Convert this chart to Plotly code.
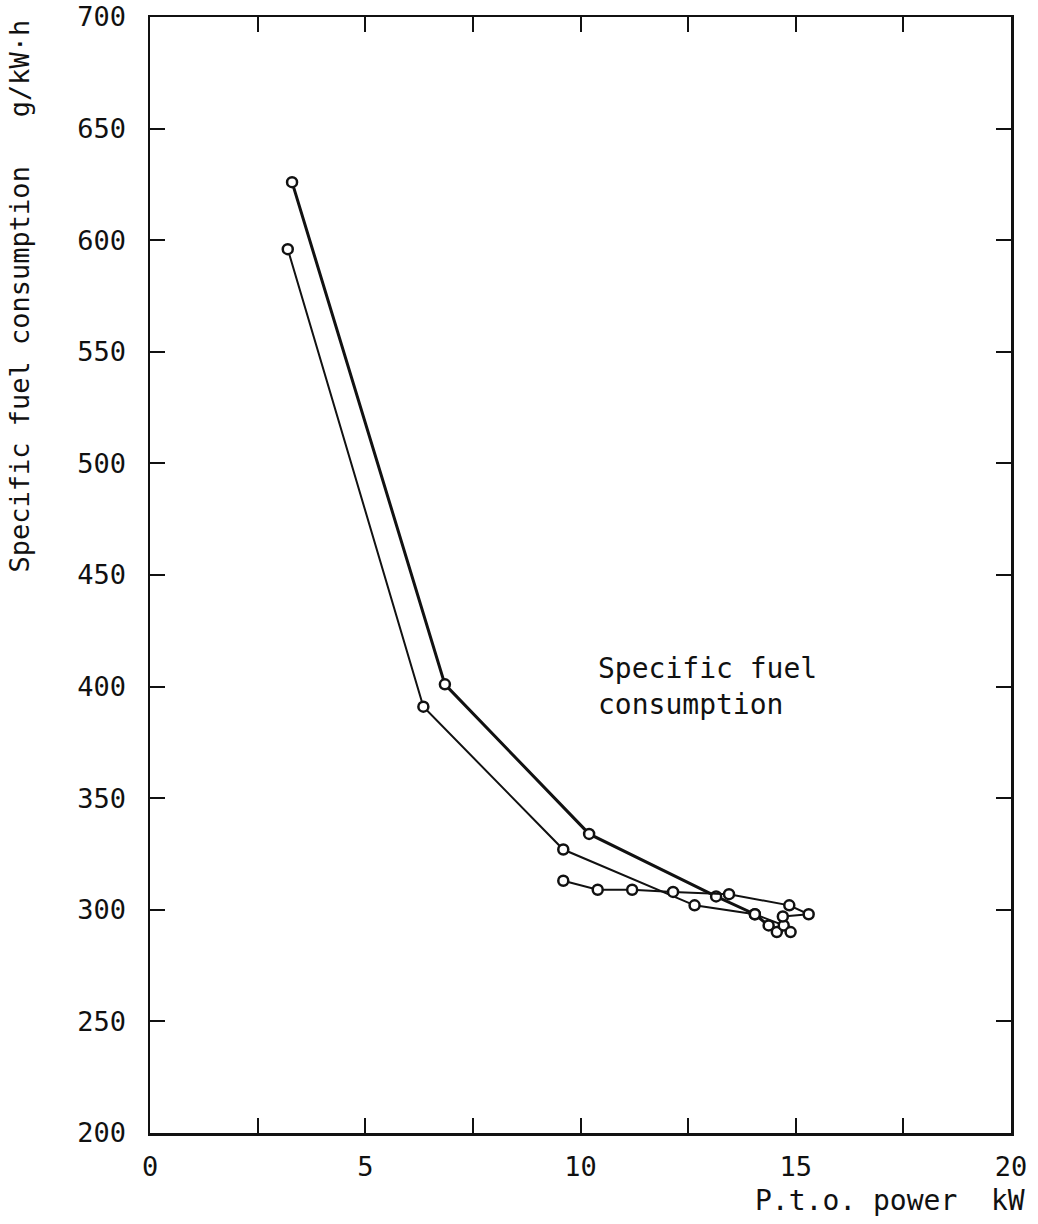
import plotly.graph_objects as go

# Data (P.t.o. power kW, specific fuel consumption g/kW·h)
upper_x = [3.3, 6.85, 10.2, 13.15, 14.05, 14.37, 14.56]
upper_y = [626, 401, 334, 306, 298, 293, 290]

lower_x = [3.2, 6.35, 9.6, 12.65, 14.05, 14.72, 14.88]
lower_y = [596, 391, 327, 302, 298, 293, 290]

full_x = [9.6, 10.4, 11.2, 12.15, 13.45, 14.85, 15.3, 14.7]
full_y = [313, 309, 309, 308, 307, 302, 298, 297]

x_tickvals = [0, 2.5, 5, 7.5, 10, 12.5, 15, 17.5, 20]
x_ticktext = ["0", "", "5", "", "10", "", "15", "", "20"]
y_tickvals = [200, 250, 300, 350, 400, 450, 500, 550, 600, 650, 700]
y_ticktext = ["200", "250", "300", "350", "400", "450", "500", "550", "600", "650", "700"]

FONT = "DejaVu Sans Mono"
INK = "#111111"
FS = 27

fig = go.Figure()

def add_series(xs, ys, width):
    fig.add_trace(go.Scatter(
        x=xs, y=ys, mode="lines+markers",
        line=dict(color=INK, width=width),
        marker=dict(symbol="circle", size=10, color="white",
                    line=dict(color=INK, width=2.5)),
        showlegend=False, hoverinfo="skip"))

add_series(upper_x, upper_y, 3)
add_series(lower_x, lower_y, 2)
add_series(full_x, full_y, 2)

W, H = 1038, 1224
L, T = 150, 17
R = W - 1011
B = H - 1133
pw, ph = W - L - R, H - T - B

fig.update_layout(
    width=W, height=H,
    margin=dict(l=L, r=R, t=T, b=B, autoexpand=False),
    paper_bgcolor="white", plot_bgcolor="white",
    font=dict(family=FONT, size=FS, color=INK),
    xaxis=dict(range=[0, 20], tickvals=x_tickvals, ticktext=x_ticktext,
               ticks="inside", ticklen=15, tickwidth=2, tickcolor=INK,
               showline=True, linecolor=INK, linewidth=2.5, mirror="ticks",
               showgrid=False, zeroline=False, ticklabelstandoff=8,
               ticklabeloverflow="allow",
               tickfont=dict(family=FONT, size=FS, color=INK)),
    yaxis=dict(range=[200, 700], tickvals=y_tickvals, ticktext=y_ticktext,
               ticks="inside", ticklen=15, tickwidth=2, tickcolor=INK,
               showline=True, linecolor=INK, linewidth=2.5, mirror="ticks",
               showgrid=False, zeroline=False, ticklabelstandoff=16,
               ticklabeloverflow="allow",
               tickfont=dict(family=FONT, size=FS, color=INK)),
)

def px_to_paper_x(px):
    return (px - L) / pw

def px_to_paper_y(py):
    return (H - B - py) / ph

fig.add_annotation(
    x=px_to_paper_x(19), y=px_to_paper_y(18), xref="paper", yref="paper",
    text="Specific fuel consumption   g/kW·h", textangle=-90,
    showarrow=False, xanchor="center", yanchor="top",
    font=dict(family=FONT, size=27, color=INK))

fig.add_annotation(
    x=px_to_paper_x(1027), y=px_to_paper_y(1200), xref="paper", yref="paper",
    text="P.t.o. power  kW", showarrow=False, xanchor="right", yanchor="middle",
    font=dict(family=FONT, size=28, color=INK))

fig.add_annotation(
    x=10.35, y=400, xref="x", yref="y",
    text="Specific fuel<br>consumption", showarrow=False, align="left",
    xanchor="left", yanchor="middle",
    font=dict(family=FONT, size=28, color=INK))

fig.write_html(
    "out.html",
    config={"displayModeBar": False, "staticPlot": True},
    post_script="document.body.style.margin='0';document.documentElement.style.margin='0';document.body.style.overflow='hidden';")
